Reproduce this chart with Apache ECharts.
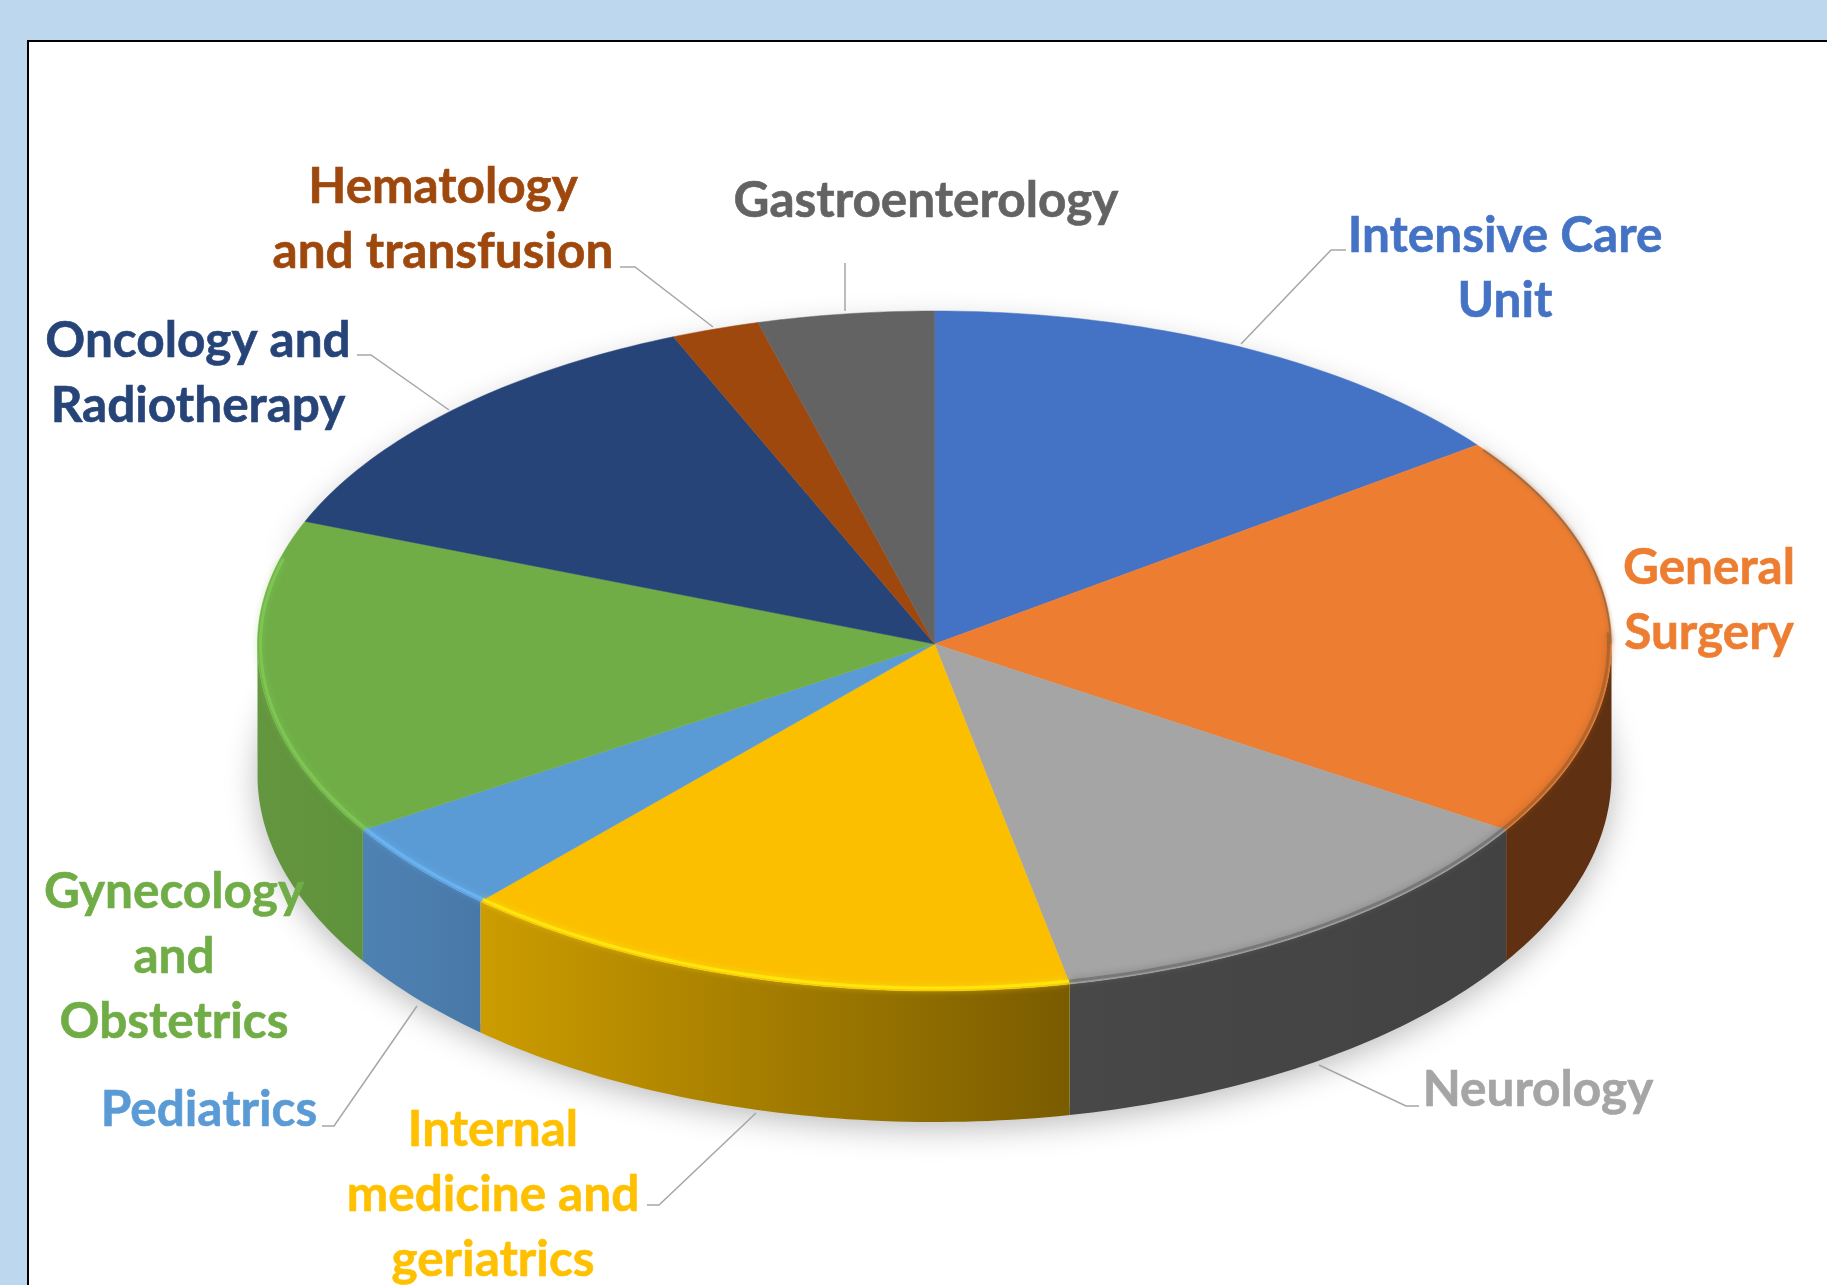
<!DOCTYPE html>
<html>
<head>
<meta charset="utf-8">
<title>Departments</title>
<script src="https://cdn.jsdelivr.net/npm/echarts@6/dist/echarts.min.js"></script>
<style>
html, body { margin: 0; padding: 0; background: #BDD7EE; }
#chart { width: 1827px; height: 1285px; }
</style>
</head>
<body>
<div id="chart"></div>
<script>
'use strict';

// clockwise from 12 o'clock (percent)
var categories = ['Intensive Care\nUnit', 'General\nSurgery', 'Neurology', 'Internal\nmedicine and\ngeriatrics',
    'Pediatrics', 'Gynecology\nand\nObstetrics', 'Oncology and\nRadiotherapy', 'Hematology\nand transfusion', 'Gastroenterology'];
var shares = [14.8, 19.2, 12.8, 14.9, 4.3, 15.0, 12.7, 2.1, 4.2];

var topColors = ['#4472C4', '#ED7D31', '#A5A5A5', '#FBBF00', '#5B9BD5', '#70AD47', '#264478', '#9E480E', '#636363'];
var textColors = ['#4472C4', '#ED7D31', '#A5A5A5', '#FFC000', '#5B9BD5', '#70AD47', '#264478', '#9E480E', '#636363'];
var wallLeft = ['#2F4F88', '#5F3112', '#484848', '#CC9C00', '#4E82B3', '#64963F', '#1A2F52', '#6E320A', '#454545'];
var wallRight = ['#2F4F88', '#5F3112', '#424242', '#7A5C00', '#4878A8', '#5E923B', '#1A2F52', '#6E320A', '#454545'];
var rimColors = ['#4472C4', '#A8602B', '#707070', '#FFEE10', '#6DB8F8', '#7FCB55', '#264478', '#9E480E', '#636363'];

// label centres and the leader lines, page pixels
var labelPos = [[1505, 235], [1709, 567], [1538, 1089], [493, 1129], [209, 1109], [174, 891], [198, 340], [443, 186], [926, 200]];
var leaders = [
    [[1241, 344], [1331, 250], [1346, 250]],
    null,
    [[1319, 1065], [1406, 1106], [1419, 1106]],
    [[756, 1113], [659, 1205], [647, 1205]],
    [[417, 1006], [334, 1126], [322, 1126]],
    null,
    [[449, 410], [371, 355], [357, 355]],
    [[713, 327], [635, 267], [620, 267]],
    [[845, 311], [845, 263]]
];

var cx = 934.5, cy = 644, rx = 677, ryTop = 333, ryBottom = 347, depth = 131;
var total = shares.reduce(function(a, b) { return a + b; }, 0);

function startAngle(i) {
    var sum = 0;
    for (var k = 0; k < i; k++) sum += shares[k];
    return sum / total * 360;
}

function rimPoint(deg, drop, shrink) {
    var t = deg * Math.PI / 180;
    var c = Math.cos(t);
    var ry = c > 0 ? ryTop : ryBottom;
    return [cx + (rx - (shrink || 0)) * Math.sin(t), cy - (ry - (shrink || 0)) * c + (drop || 0)];
}

function arc(a, b, drop, shrink) {
    var pts = [];
    var n = Math.max(2, Math.ceil(b - a));
    for (var k = 0; k <= n; k++) pts.push(rimPoint(a + (b - a) * k / n, drop, shrink));
    return pts;
}

function renderWall(params, api) {
    var i = api.value(0);
    var a = Math.max(startAngle(i), 90), b = Math.min(startAngle(i + 1), 270);
    if (b <= a) return {type: 'group', children: []};
    var pts = arc(a, b, 0).concat(arc(a, b, depth).reverse());
    return {
        type: 'polygon',
        shape: {points: pts},
        style: {
            fill: new echarts.graphic.LinearGradient(0, 0, 1, 0, [
                {offset: 0, color: wallLeft[i]},
                {offset: 1, color: wallRight[i]}
            ])
        }
    };
}

function renderTop(params, api) {
    var i = api.value(0);
    var pts = [[cx, cy]].concat(arc(startAngle(i), startAngle(i + 1), 0));
    return {type: 'polygon', shape: {points: pts}, style: {fill: topColors[i], stroke: topColors[i], lineWidth: 0.5}};
}

// soft lit edge of the bevel where top and wall meet
function renderRim(params, api) {
    var i = api.value(0);
    var a = Math.max(startAngle(i), 88), b = Math.min(startAngle(i + 1), 285);
    var children = [];
    if (b > a) {
        children.push({
            type: 'polyline',
            shape: {points: arc(a, b, 0, 3)},
            style: {fill: null, stroke: rimColors[i], lineWidth: 3, opacity: 0.8, shadowBlur: 7, shadowColor: rimColors[i]}
        });
    }
    if (i === 1) {
        children.push({
            type: 'polyline',
            shape: {points: arc(startAngle(1) + 1, 90, 0, 1)},
            style: {fill: null, stroke: '#A06A40', lineWidth: 1.5, shadowBlur: 4, shadowColor: '#A06A40'}
        });
    }
    return {type: 'group', children: children};
}

function renderShadow(params, api) {
    return {
        type: 'polygon',
        shape: {points: arc(70, 290, depth - 8).concat(arc(290, 430, 0))},
        style: {
            fill: '#fff',
            shadowBlur: 32,
            shadowColor: 'rgba(0,0,0,0.28)',
            shadowOffsetX: 0,
            shadowOffsetY: 14
        }
    };
}

function renderLeader(params, api) {
    var line = leaders[api.value(0)];
    if (!line) return {type: 'group', children: []};
    return {type: 'polyline', shape: {points: line}, style: {fill: null, stroke: '#A6A6A6', lineWidth: 1.5}};
}

function renderLabel(params, api) {
    var i = api.value(0);
    return {
        type: 'text',
        style: {
            x: labelPos[i][0],
            y: labelPos[i][1] - 31,
            text: categories[i],
            fill: textColors[i],
            stroke: textColors[i],
            lineWidth: 0.6,
            font: '700 49.5px Lato',
            lineHeight: 65,
            align: 'center',
            verticalAlign: 'top'
        }
    };
}

var indices = categories.map(function(name, i) { return [i, shares[i]]; });

function layer(name, render, z) {
    return {
        name: name,
        type: 'custom',
        coordinateSystem: 'none',
        silent: true,
        animation: false,
        clip: false,
        z: z,
        renderItem: render,
        data: name === 'shadow' ? [[0]] : indices
    };
}

var chart = echarts.init(document.getElementById('chart'));
chart.setOption({
    backgroundColor: '#BDD7EE',
    animation: false,
    graphic: [{
        type: 'rect',
        left: 27,
        top: 40,
        z: 0,
        shape: {width: 1900, height: 1400},
        style: {fill: '#fff', stroke: '#000', lineWidth: 2}
    }],
    series: [
        layer('shadow', renderShadow, 1),
        layer('walls', renderWall, 2),
        layer('tops', renderTop, 3),
        layer('rims', renderRim, 4),
        layer('leaders', renderLeader, 5),
        layer('labels', renderLabel, 6)
    ]
});
</script>
</body>
</html>
